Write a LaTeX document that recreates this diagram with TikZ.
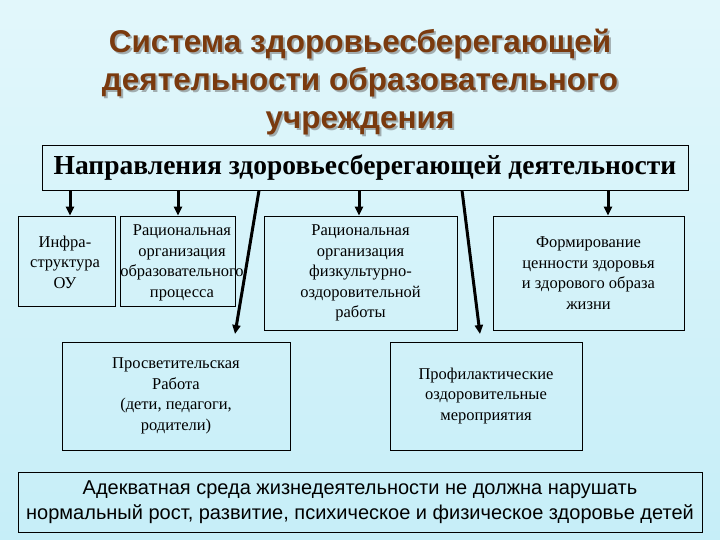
\documentclass[tikz,border=0pt]{standalone}
\usepackage{fontspec}
\setmainfont{Liberation Serif}
\setsansfont{Liberation Sans}
\usetikzlibrary{arrows.meta,shadows}
\definecolor{bgA}{HTML}{E2F7FB}
\definecolor{bgB}{HTML}{C6EEF8}
\definecolor{ttl}{HTML}{7A3A0E}
\begin{document}
\begin{tikzpicture}[x=1pt,y=-1pt,
  bx/.style={draw=black,line width=0.8pt,inner sep=0pt},
  txt/.style={align=center,font=\fontsize{16.5}{20.5}\selectfont},
  ttlf/.style={font=\sffamily\bfseries\fontsize{31.5}{38}\selectfont,align=center},
  arr/.style={line width=3pt,-{Triangle[length=9pt,width=8pt]}}]
\useasboundingbox (0,0) rectangle (720,540);
\shade[top color=bgA,bottom color=bgB] (0,0) rectangle (720,540);
% title
\node[ttlf,text=black!60,opacity=0.5] at (362,84) {Система здоровьесберегающей\\деятельности образовательного\\учреждения};
\node (title) [ttlf,text=ttl] at (360,82) {Система здоровьесберегающей\\деятельности образовательного\\учреждения};
% header
\node (hdr) [bx,minimum width=646pt,minimum height=45pt,font=\bfseries\fontsize{27.5}{30}\selectfont] at (365,167.5) {Направления здоровьесберегающей деятельности};
% boxes
\node (b1) [bx,minimum width=97pt,minimum height=90pt] at (66.5,261) {};
\node[txt] at (65,262) {Инфра-\\структура\\ОУ};
\node (b2) [bx,minimum width=115pt,minimum height=90pt] at (177.5,261) {};
\node[txt] at (182,263) {Рациональная\\организация\\образовательного\\процесса};
\node (b3) [bx,minimum width=193pt,minimum height=114pt,txt] at (360.5,273) {Рациональная\\организация\\физкультурно-\\оздоровительной\\работы};
\node (b4) [bx,minimum width=191pt,minimum height=114pt,txt] at (588.5,273) {Формирование\\ценности здоровья\\и здорового образа\\жизни};
\node (b5) [bx,minimum width=228pt,minimum height=108pt,txt] at (176,396) {Просветительская\\Работа\\(дети, педагоги,\\родители)};
\node (b6) [bx,minimum width=192pt,minimum height=108pt,txt] at (486,396) {Профилактические\\оздоровительные\\мероприятия};
\node (b7) [bx,minimum width=684pt,minimum height=60pt,align=center,font=\sffamily\fontsize{20}{25}\selectfont] at (360,502) {Адекватная среда жизнедеятельности не должна нарушать\\нормальный рост, развитие, психическое и физическое здоровье детей};
% arrows
\coordinate (e5) at (235,334);
\coordinate (e6) at (480,334);
\draw[arr] (hdr.south -| 70,0) -- (b1.north -| 70,0);
\draw[arr] (hdr.south -| 178,0) -- (b2.north -| 178,0);
\draw[arr] (hdr.south -| 259,0) -- (e5);
\draw[arr] (hdr.south -| 359,0) -- (b3.north -| 359,0);
\draw[arr] (hdr.south -| 462,0) -- (e6);
\draw[arr] (hdr.south -| 608,0) -- (b4.north -| 608,0);
\end{tikzpicture}
\end{document}
